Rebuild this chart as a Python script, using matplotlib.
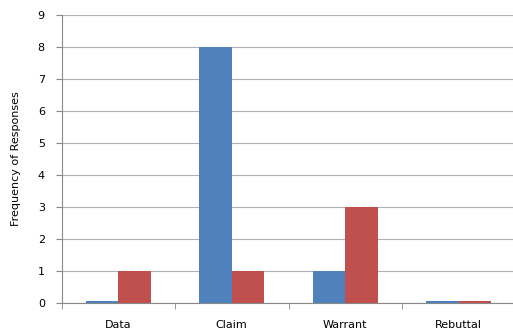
import numpy as np
import matplotlib.pyplot as plt

categories = ['Data', 'Claim', 'Warrant', 'Rebuttal']
series_blue = [0.05, 8, 1, 0.05]
series_red = [1, 1, 3, 0.05]

fig = plt.figure(figsize=(5.13, 3.31), dpi=100)
fig.patch.set_facecolor('white')
ax = fig.add_axes([61.5/513, 28/331, 454/513, 288/331])

x = np.arange(len(categories))
w = 0.286
ax.bar(x - w/2, series_blue, w, color='#4F81BD', zorder=3)
ax.bar(x + w/2, series_red, w, color='#C0504D', zorder=3)

ax.set_xlim(-0.5, 3.5)
ax.set_ylim(0, 9)
ax.set_yticks(range(10))
ax.yaxis.grid(True, color='#b0b0b0', linewidth=0.8, zorder=0)
ax.set_xticks(x)
ax.set_xticklabels(categories, fontsize=8)
ax.tick_params(axis='x', length=0, pad=12)
ax.set_xticks(np.arange(-0.5, 4, 1), minor=True)
ax.tick_params(axis='x', which='minor', length=4, color='#888888')
ax.tick_params(axis='y', labelsize=8, length=4, color='#888888', pad=8)
ax.set_ylabel('Frequency of Responses', fontsize=8, labelpad=12)

for s in ['top', 'right']:
    ax.spines[s].set_visible(False)
for s in ['left', 'bottom']:
    ax.spines[s].set_color('#888888')

fig.savefig('out.png', dpi=100)
